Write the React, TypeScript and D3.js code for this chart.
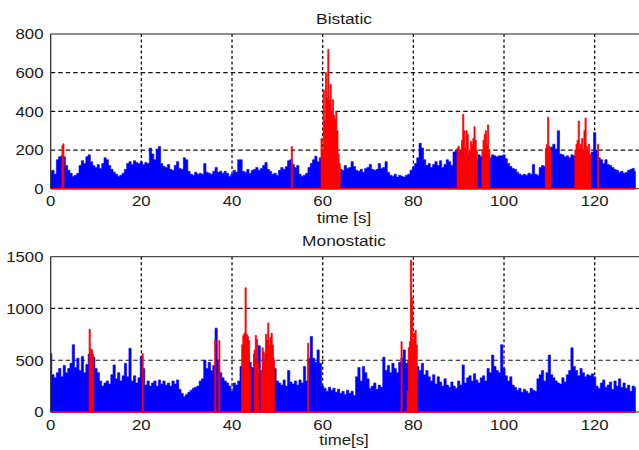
import React from "react";
import * as d3 from "d3";

const sampleStep = 0.5;

const bistaticBlue = [
  90, 95, 75, 150, 165,
  170, 165, 120, 95, 80,
  65, 70, 80, 120, 145,
  130, 165, 175, 140, 120,
  110, 125, 105, 130, 160,
  150, 120, 100, 85, 75,
  65, 70, 80, 100, 130,
  140, 125, 145, 135, 130,
  140, 125, 135, 130, 210,
  180, 150, 205, 218, 130,
  115, 110, 125, 100, 95,
  120, 140, 105, 100, 160,
  150, 90, 75, 70, 85,
  75, 80, 75, 130, 85,
  80, 75, 90, 110, 85,
  90, 80, 90, 80, 65,
  75, 95, 85, 150, 150,
  90, 85, 100, 80, 95,
  100, 110, 95, 105, 120,
  135, 100, 90, 75, 80,
  70, 95, 110, 100, 115,
  145, 150, 125, 110, 120,
  75, 65, 70, 80, 110,
  130, 150, 168, 140, 160,
  155, 150, 140, 130, 140,
  135, 125, 110, 100, 95,
  120, 105, 110, 140, 115,
  95, 90, 100, 85, 105,
  110, 125, 100, 95, 100,
  130, 105, 110, 140, 85,
  70, 65, 75, 60, 70,
  65, 60, 70, 75, 95,
  110, 130, 160, 235, 210,
  150, 120, 130, 110, 125,
  140, 120, 145, 110, 125,
  150, 140, 120, 190, 200,
  190, 200, 180, 185, 170,
  200, 160, 175, 150, 175,
  165, 175, 170, 180, 160,
  175, 170, 165, 170, 170,
  175, 155, 130, 115, 105,
  100, 85, 75, 70, 75,
  70, 80, 75, 125, 75,
  70, 110, 120, 115, 190,
  200, 215, 230, 205, 300,
  180, 175, 165, 170, 160,
  175, 170, 165, 180, 160,
  170, 175, 180, 175, 190,
  290, 200, 160, 150, 130,
  150, 125, 120, 110, 100,
  95, 85, 90, 80, 85,
  95, 100, 105, 90,
];

const monostaticBlue = [
  565, 360, 330, 380, 420,
  340, 450, 380, 420, 470,
  650, 430, 520, 400, 535,
  380, 460, 560, 400, 530,
  420, 380, 300, 250, 280,
  300, 270, 360, 455, 320,
  380, 300, 350, 470, 340,
  615, 300, 350, 280, 330,
  535, 420, 260, 300, 250,
  280, 300, 250, 310, 270,
  300, 260, 280, 250, 300,
  270, 310, 220, 180, 150,
  170, 190, 210, 230, 240,
  250, 300, 320, 500, 420,
  480, 400, 450, 810, 500,
  380, 330, 300, 280, 250,
  200, 280, 260, 300, 440,
  430, 420, 380, 480, 430,
  560, 500, 640, 400, 450,
  560, 500, 600, 530, 420,
  300, 280, 260, 310, 250,
  400, 290, 270, 300, 260,
  310, 280, 440, 300, 520,
  730, 520, 480, 600, 470,
  250, 230, 200, 240, 210,
  230, 190, 220, 180, 200,
  170, 210, 180, 200, 160,
  340, 430, 300, 440, 380,
  320, 230, 250, 280, 220,
  260, 240, 530, 400, 450,
  380, 470, 420, 380, 480,
  520, 600, 470, 500, 550,
  560, 450, 440, 400, 470,
  360, 400, 340, 300, 360,
  270, 340, 290, 250, 320,
  260, 240, 290, 250, 230,
  300, 260, 455, 280, 330,
  350, 300, 370, 310, 280,
  330, 350, 300, 420, 380,
  550, 440, 400, 380, 650,
  420, 350, 300, 340, 260,
  240, 210, 230, 190, 220,
  200, 180, 230, 210, 200,
  320, 360, 400, 300, 380,
  550, 360, 330, 300, 280,
  270, 330, 290, 360, 400,
  620, 440, 400, 350, 420,
  380, 340, 360, 350, 370,
  340, 250, 230, 280, 310,
  240, 260, 290, 220, 300,
  250, 320, 240, 280, 230,
  260, 200, 250, 240,
];

const bistaticRed: [number, number][] = [
  [2.6, 225], [2.8, 232],
  [53.2, 218],
  [59.75, 260], [60.0, 200], [60.25, 510], [60.5, 350], [60.75, 600], [61.0, 470], [61.25, 720], [61.5, 460],
  [61.75, 540], [62.0, 400], [62.25, 460], [62.5, 380], [62.75, 360], [63.0, 400], [63.25, 300], [63.5, 180],
  [63.75, 130],
  [89.75, 210], [90.0, 220], [90.25, 200], [90.5, 160], [90.75, 250], [91.0, 385], [91.25, 300], [91.5, 210],
  [91.75, 300], [92.0, 280], [92.25, 150], [92.5, 200], [92.75, 245], [93.0, 230], [93.25, 260], [93.5, 320],
  [93.75, 250], [94.0, 200],
  [95.25, 200], [95.5, 250], [95.75, 280], [96.0, 300], [96.25, 230], [96.5, 330], [96.75, 200],
  [109.25, 210], [109.5, 230], [109.75, 370], [110.0, 220], [110.25, 200],
  [115.75, 200], [116.0, 230], [116.25, 250], [116.5, 350], [116.75, 210], [117.0, 230], [117.25, 260],
  [117.5, 200], [117.75, 300], [118.0, 365], [118.25, 220], [118.5, 200], [118.75, 230], [119.0, 180],
  [120.75, 230],
];

const monostaticRed: [number, number][] = [
  [8.6, 800], [8.85, 610], [9.1, 600], [9.35, 560],
  [20.3, 565],
  [36.3, 700],
  [37.2, 690],
  [42.25, 650], [42.5, 740], [42.75, 760], [43.0, 1200], [43.25, 750], [43.5, 730], [43.75, 690], [44.0, 420],
  [45.0, 600], [45.25, 740], [45.5, 700], [45.75, 480],
  [46.5, 400], [46.75, 620], [47.0, 580], [47.25, 480], [47.5, 750], [47.75, 700], [48.0, 860], [48.25, 650],
  [48.5, 720], [48.75, 760], [49.0, 650], [49.25, 500],
  [56.8, 665],
  [77.4, 680],
  [78.75, 200], [79.0, 620], [79.25, 680], [79.5, 1465], [79.75, 1100], [80.0, 700], [80.25, 760], [80.5, 790], [80.75, 650],
];

const xTicks = [0, 20, 40, 60, 80, 100, 120];
const bistaticYTicks = [0, 200, 400, 600, 800];
const monostaticYTicks = [0, 500, 1000, 1500];

const W = 639;
const H = 450;
const FONT = "'Liberation Sans', Arial, sans-serif";
const SX = 1.12;

function Txt({ x, y, anchor = "middle", size = 15, children }: any) {
  return (
    <text
      transform={`translate(${x},${y}) scale(${SX},1)`}
      textAnchor={anchor}
      fontFamily={FONT}
      fontSize={size}
      fill="#1a1a1a"
    >
      {children}
    </text>
  );
}

function groupBursts(pts: [number, number][]) {
  const out: [number, number][][] = [];
  let cur: [number, number][] = [];
  pts.forEach((p, i) => {
    if (i > 0 && p[0] - pts[i - 1][0] > 0.3) {
      out.push(cur);
      cur = [];
    }
    cur.push(p);
  });
  if (cur.length) out.push(cur);
  return out.map((b) => {
    const first = b[0];
    const last = b[b.length - 1];
    return [[first[0] - 0.12, first[1]], ...b, [last[0] + 0.12, last[1]]] as [number, number][];
  });
}

function Panel({ top, bottom, yMax, yTicks, blue, red, title, xlabel, titleY, xlabelY }: any) {
  const x = d3.scaleLinear().domain([0, 130]).range([50.7, 640]);
  const y = d3.scaleLinear().domain([0, yMax]).range([bottom, top]);
  const bluePts: [number, number][] = blue.map((v: number, i: number) => [i * sampleStep, v]);
  const blueArea = d3
    .area<[number, number]>()
    .x((d) => x(d[0]))
    .y0(y(0))
    .y1((d) => y(d[1]))
    .curve(d3.curveStep);
  const redArea = d3
    .area<[number, number]>()
    .x((d) => x(d[0]))
    .y0(y(0))
    .y1((d) => y(d[1]))
    .curve(d3.curveStep);
  const bursts = groupBursts(red);
  const tEnd = (blue.length - 1) * sampleStep;
  return (
    <g>
      {xTicks
        .filter((t) => t > 0)
        .map((t) => (
          <line
            key={"gx" + t}
            x1={x(t)}
            x2={x(t)}
            y1={top}
            y2={bottom}
            stroke="#111"
            strokeWidth={1.3}
            strokeDasharray="3,2.5"
          />
        ))}
      {yTicks
        .filter((v: number) => v > 0 && v < yMax)
        .map((v: number) => (
          <line
            key={"gy" + v}
            x1={x(0)}
            x2={x(130)}
            y1={y(v)}
            y2={y(v)}
            stroke="#111"
            strokeWidth={1.2}
            strokeDasharray="4.5,3"
          />
        ))}
      <path d={blueArea(bluePts) || ""} fill="#0000ff" stroke="#0000ff" strokeWidth={0.6} />
      {bursts.map((b, i) => (
        <path key={"r" + i} d={redArea(b) || ""} fill="#ff0000" stroke="#ff0000" strokeWidth={0.8} />
      ))}
      <line x1={x(0)} x2={x(130)} y1={top} y2={top} stroke="#222" strokeWidth={1} />
      <line x1={x(0)} x2={x(0)} y1={top} y2={bottom} stroke="#333" strokeWidth={1.3} />
      <line x1={x(0)} x2={x(130)} y1={bottom} y2={bottom} stroke="#222" strokeWidth={1} />
      <line x1={x(0)} x2={x(tEnd)} y1={bottom} y2={bottom} stroke="#ff0000" strokeWidth={1.6} />
      {yTicks.map((v: number) => (
        <Txt key={"yl" + v} x={43.5} y={y(v) + 5.3} anchor="end">
          {v}
        </Txt>
      ))}
      {xTicks.map((t) => (
        <Txt key={"xl" + t} x={x(t)} y={bottom + 17.5}>
          {t}
        </Txt>
      ))}
      <Txt x={344} y={titleY} size={15.5}>
        {title}
      </Txt>
      <Txt x={344} y={xlabelY} size={15}>
        {xlabel}
      </Txt>
    </g>
  );
}

export default function App() {
  return (
    <svg
      width={W}
      height={H}
      style={{ position: "absolute", left: 0, top: 0, display: "block", background: "#fff" }}
    >
      <rect width={W} height={H} fill="#fff" />
      <Panel
        top={34}
        bottom={188.7}
        yMax={800}
        yTicks={bistaticYTicks}
        blue={bistaticBlue}
        red={bistaticRed}
        title="Bistatic"
        xlabel="time [s]"
        titleY={24}
        xlabelY={223}
      />
      <Panel
        top={256.7}
        bottom={412}
        yMax={1500}
        yTicks={monostaticYTicks}
        blue={monostaticBlue}
        red={monostaticRed}
        title="Monostatic"
        xlabel="time[s]"
        titleY={246}
        xlabelY={445}
      />
    </svg>
  );
}
